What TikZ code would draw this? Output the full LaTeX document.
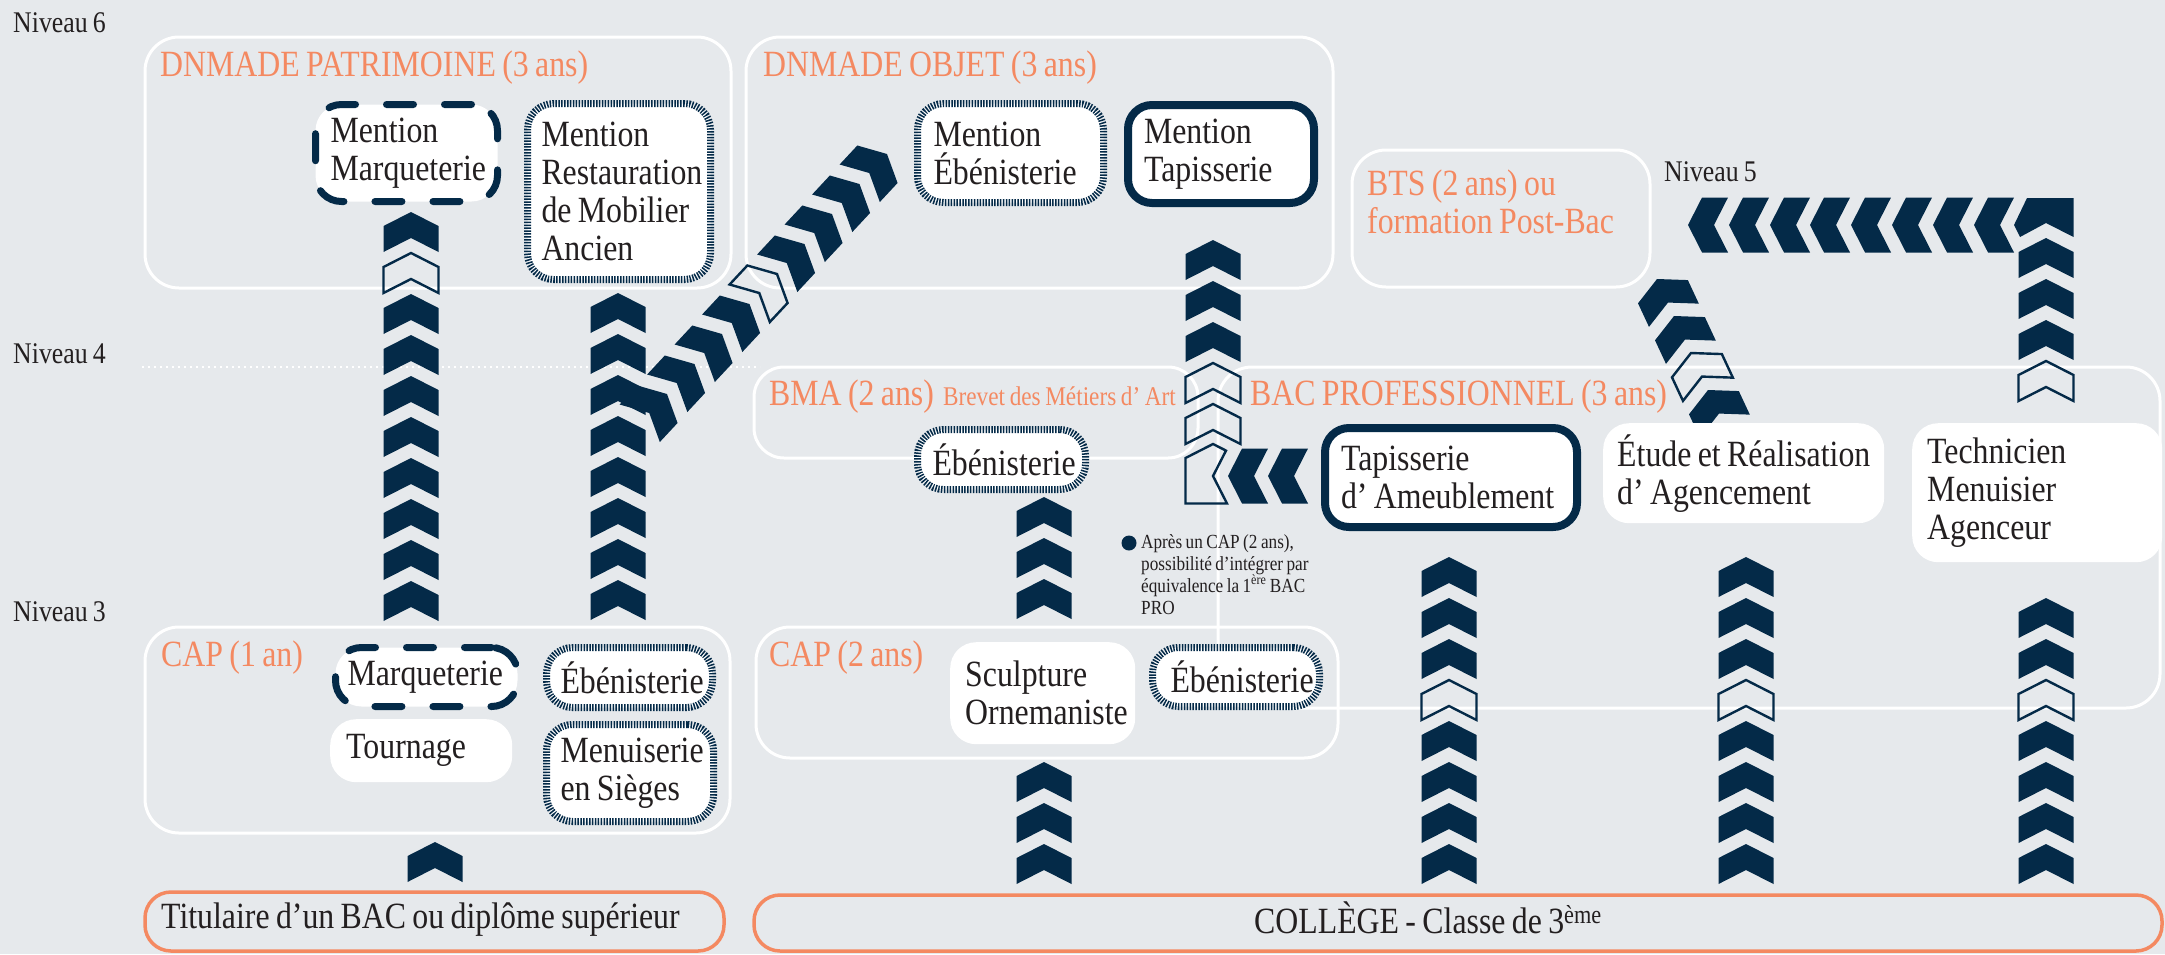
\documentclass[tikz,border=0pt]{standalone}
\usepackage{fontspec}
\setmainfont{Liberation Serif}[FakeStretch=0.86, WordSpace=0.8]
\hyphenpenalty=10000
\exhyphenpenalty=10000
\definecolor{navy}{RGB}{4,42,72}
\definecolor{coral}{RGB}{244,137,97}
\definecolor{bgc}{RGB}{230,233,236}
\definecolor{ink}{RGB}{35,31,32}
\newcommand{\chevron}[4][0]{\path[#2, shift={(#3,#4)}, rotate=#1] (0,0) -- (27.5,14) -- (27.5,40) -- (0,26) -- (-27.5,40) -- (-27.5,14) -- cycle;}
\tikzset{
  frame/.style={draw=white, line width=3pt, rounded corners=34pt},
  oframe/.style={draw=coral, line width=3.5pt, rounded corners=26pt},
  lvl/.style={anchor=base west, inner sep=0pt, text=ink, font=\fontsize{30}{32}\selectfont},
  ttl/.style={anchor=base west, inner sep=0pt, text=coral, font=\fontsize{37}{38}\selectfont},
  card/.style={anchor=north west, fill=white, rounded corners=26pt, align=flush left, text=ink, inner ysep=0pt, font=\fontsize{37}{38}\selectfont},
  dashbox/.style={draw=navy, line width=7pt, dash pattern=on 27pt off 31pt, line cap=round},
  hatchbox/.style={draw=navy, line width=7pt, dash pattern=on 1.5pt off 1.4pt},
  solidbox/.style={draw=navy, line width=8pt, rounded corners=24pt},
  full/.style={fill=navy},
  hollow/.style={draw=navy, line width=2.4pt},
  dotline/.style={draw=white, line width=2.5pt, dash pattern=on 2pt off 4pt}
}
\begin{document}
\begin{tikzpicture}[x=1pt,y=-1pt]
\fill[bgc] (0,0) rectangle (2165,954);
\useasboundingbox (0,0) rectangle (2165,954);
% level frames
\draw[frame] (145,37) rectangle (731,288);
\draw[frame] (746,37) rectangle (1333,288);
\draw[frame] (1352,150) rectangle (1650,287);
\draw[frame, rounded corners=30pt] (754,367) rectangle (1198,458);
\draw[frame] (1218,367) rectangle (2160,708);
\draw[frame] (145,627) rectangle (730,833);
\draw[frame] (756,627) rectangle (1338,758);
\draw[dotline] (142,367) -- (760,367);
\draw[oframe] (145,892) rectangle (724,951);
\draw[oframe] (754,895) rectangle (2162,951);
% chevron columns
\chevron{full}{435}{842}
\foreach \y in {212,294,335,376,417,458,499,540,581} {\chevron{full}{411}{\y}}
\chevron{hollow}{411}{253}
\foreach \y in {293,334,375,416,457,498,539,580} {\chevron{full}{618}{\y}}
\foreach \i in {0,1,2,3,5,6,7,8} {\chevron[-43]{full}{887-27.5*\i}{154+30*\i}}
\chevron[-43]{hollow}{777}{274}
\foreach \y in {240,281,322} {\chevron{full}{1213}{\y}}
\foreach \y in {363,404} {\chevron{hollow}{1213}{\y}}
\draw[hollow] (1185.5,458) -- (1213,444) -- (1226,450.6) -- (1213,476) -- (1227,503.5) -- (1185.5,503.5) -- cycle;
\foreach \x in {1228,1268} {\chevron[90]{full}{\x}{476}}
\foreach \y in {497,538,579,762,803,844} {\chevron{full}{1044}{\y}}
\foreach \y in {557,598,639,721,762,803,844} {\chevron{full}{1449}{\y}\chevron{full}{1746}{\y}}
\chevron{hollow}{1449}{680}
\chevron{hollow}{1746}{680}
\foreach \y in {598,639,721,762,803,844,238,279,320} {\chevron{full}{2046}{\y}}
\chevron{hollow}{2046}{680}
\chevron{hollow}{2046}{361}
\fill[navy] (2027,198) -- (2073.5,198) -- (2073.5,237) -- (2046,223) -- (2020,237) -- (2014,225) -- cycle;
\foreach \x in {1688,1729,1770,1810,1851,1892,1933,1974} {\chevron[90]{full}{\x}{225}}
\foreach \i in {0,1,3} {\chevron[25]{full}{1657+17*\i}{279+37*\i}}
\chevron[25]{hollow}{1691}{353}
% formation nodes
\node[card, dashbox, text width=152pt, inner xsep=15pt, minimum height=97pt] (mMarq) at (312,101) {Mention\\Marqueterie};
\node[card, hatchbox, text width=155pt, inner xsep=14pt, minimum height=176pt] (mRest) at (524,100) {Mention\\Restauration\\de Mobilier\\Ancien};
\node[card, hatchbox, text width=154pt, inner xsep=16pt, minimum height=99pt] (mEbe) at (914,100) {Mention\\Ébénisterie};
\node[card, solidbox, text width=154pt, inner xsep=16pt, minimum height=98pt] (mTap) at (1124,101) {Mention\\Tapisserie};
\node[card, hatchbox, text width=138pt, inner xsep=15pt, minimum height=60pt] (bEbe) at (914,426) {Ébénisterie};
\node[card, solidbox, text width=220pt, inner xsep=16pt, minimum height=99pt] (tAme) at (1321,424) {Tapisserie\\\mbox{d’ Ameublement}};
\node[card, text width=253pt, inner xsep=14pt, minimum height=100pt] (etude) at (1603,423) {\mbox{Étude et Réalisation}\\d’ Agencement};
\node[card, text width=220pt, inner xsep=15pt, minimum height=139pt] (tech) at (1912,423) {Technicien\\Menuisier\\Agenceur};
\node[card, dashbox, text width=158pt, inner xsep=12pt, minimum height=59pt] (cMarq) at (332,644) {Marqueterie};
\node[card, hatchbox, text width=138pt, inner xsep=14pt, minimum height=60pt] (cEbe) at (543,644) {Ébénisterie};
\node[card, text width=150pt, inner xsep=16pt, minimum height=63pt] (tourn) at (330,719) {Tournage};
\node[card, hatchbox, text width=139pt, inner xsep=14pt, minimum height=97pt] (cMen) at (543,721) {Menuiserie\\en Sièges};
\node[card, text width=155pt, inner xsep=15pt, minimum height=102pt] (sculpt) at (950,642) {Sculpture\\Ornemaniste};
\node[card, hatchbox, text width=131pt, inner xsep=18pt, minimum height=59pt] (c2Ebe) at (1149,644) {Ébénisterie};
% note
\node[circle, fill=navy, minimum size=15pt, inner sep=0pt] (dot) at (1129,543) {};
\node[anchor=north west, align=flush left, inner sep=0pt, text=ink, font=\fontsize{20}{22}\selectfont] (note) at (1141,534) {Après un CAP (2 ans),\\possibilité d’intégrer par\\équivalence la 1\textsuperscript{ère} BAC\\PRO};
% titles
\node[ttl] (tDP) at (160,76) {DNMADE PATRIMOINE (3 ans)};
\node[ttl] (tDO) at (763,76) {DNMADE OBJET (3 ans)};
\node[ttl] (tBTSa) at (1367,195) {BTS (2 ans) ou};
\node[ttl] (tBTSb) at (1367,233) {formation Post-Bac};
\node[ttl] (tBMA) at (769,405) {BMA (2 ans)};
\node[ttl, font=\fontsize{27}{28}\selectfont] (tBMAb) at (943,405) {Brevet des Métiers d’ Art};
\node[ttl] (tBAC) at (1250,405) {BAC PROFESSIONNEL (3 ans)};
\node[ttl] (tCAPa) at (161,666) {CAP (1 an)};
\node[ttl] (tCAPb) at (769,666) {CAP (2 ans)};
% levels
\node[lvl] (n6) at (13,32) {Niveau 6};
\node[lvl] (n5) at (1664,181) {Niveau 5};
\node[lvl] (n4) at (13,363) {Niveau 4};
\node[lvl] (n3) at (13,621) {Niveau 3};
% entry points
\node[anchor=base west, inner sep=0pt, text=ink, font=\fontsize{37}{38}\selectfont] (tit) at (161,928) {Titulaire d’un BAC ou diplôme supérieur};
\node[anchor=base west, inner sep=0pt, text=ink, font=\fontsize{37}{38}\selectfont] (col) at (1254,933) {COLLÈGE - Classe de 3\textsuperscript{ème}};
\end{tikzpicture}
\end{document}
